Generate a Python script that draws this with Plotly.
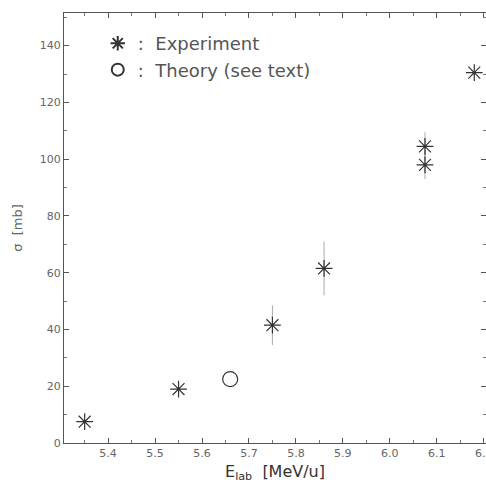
import plotly.graph_objects as go

# Data
exp_E = [5.35, 5.55, 5.75, 5.86, 6.075, 6.075, 6.18]
exp_sigma = [7.5, 19.0, 41.5, 61.5, 104.5, 98.0, 130.5]
exp_err = [0, 0, 7.0, 9.5, 5.0, 5.0, 0]
theo_E = [5.66]
theo_sigma = [22.5]

x_ticks = [5.4, 5.5, 5.6, 5.7, 5.8, 5.9, 6.0, 6.1, 6.2]
x_labels = ["5.4", "5.5", "5.6", "5.7", "5.8", "5.9", "6.0", "6.1", "6.2"]
y_ticks = [0, 20, 40, 60, 80, 100, 120, 140]

ink = "#333333"
font_family = "DejaVu Sans"

fig = go.Figure()
fig.add_trace(go.Scatter(
    x=exp_E, y=exp_sigma, mode="markers", name=":  Experiment",
    marker=dict(symbol="asterisk-open", size=14, color=ink, line=dict(width=1.2, color=ink)),
    error_y=dict(type="data", array=exp_err, visible=True, thickness=1, width=0, color="#aaaaaa"),
))
fig.add_trace(go.Scatter(
    x=theo_E, y=theo_sigma, mode="markers", name=":  Theory (see text)",
    marker=dict(symbol="circle-open", size=15, color=ink, line=dict(width=1.2, color=ink)),
))

axis_common = dict(
    showline=True, linecolor="#555555", linewidth=1, mirror="ticks",
    ticks="inside", ticklen=5, tickcolor="#555555", showgrid=False, zeroline=False,
    tickfont=dict(family=font_family, size=11, color="#666666"),
    automargin=False,
)
fig.update_xaxes(
    range=[5.306, 6.205], tickvals=x_ticks, ticktext=x_labels,
    ticklabeloverflow="allow",
    minor=dict(dtick=0.05, ticks="inside", ticklen=3, tickcolor="#777777"),
    title=dict(text="E<sub>lab</sub>  [MeV/u]", font=dict(family=font_family, size=16, color=ink), standoff=6),
    **axis_common,
)
fig.update_yaxes(
    range=[0, 151.5], tickvals=y_ticks,
    minor=dict(dtick=10, ticks="inside", ticklen=3, tickcolor="#777777"),
    title=dict(text="σ  [mb]", font=dict(family=font_family, size=13, color="#666666"), standoff=14),
    **axis_common,
)
fig.update_layout(
    width=486, height=486,
    margin=dict(l=64, r=0, t=13, b=43),
    paper_bgcolor="white", plot_bgcolor="white",
    showlegend=True,
    legend=dict(x=0.08, y=0.972, xanchor="left", yanchor="top",
                font=dict(family=font_family, size=18, color="#555555"),
                bgcolor="rgba(0,0,0,0)", itemsizing="constant", tracegroupgap=6),
)
fig.write_html("out.html")
